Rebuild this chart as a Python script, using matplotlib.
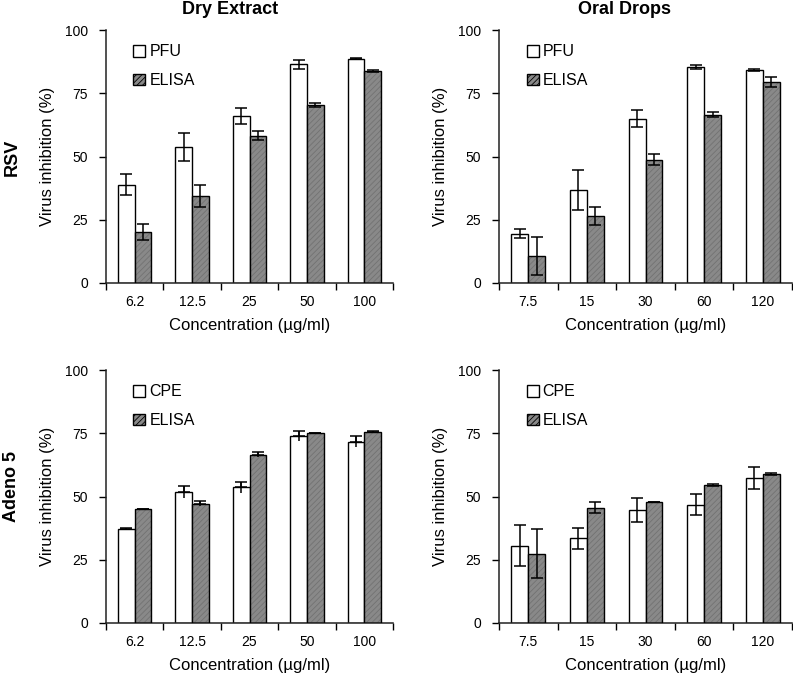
import matplotlib
matplotlib.use("Agg")
import matplotlib.pyplot as plt
import numpy as np
from matplotlib.patches import Patch

plt.rcParams['font.family'] = ['Liberation Sans', 'DejaVu Sans']
plt.rcParams['hatch.linewidth'] = 0.6

# ---- data ----
dry_conc = ["6.2", "12.5", "25", "50", "100"]
oral_conc = ["7.5", "15", "30", "60", "120"]

rsv_dry_pfu = [38.9, 53.8, 66.1, 86.4, 88.7]
rsv_dry_pfu_err = [4.0, 5.6, 3.2, 1.8, 0.3]
rsv_dry_elisa = [20.0, 34.4, 58.2, 70.4, 83.8]
rsv_dry_elisa_err = [3.2, 4.3, 1.7, 0.9, 0.5]

rsv_oral_pfu = [19.4, 36.7, 64.9, 85.4, 84.3]
rsv_oral_pfu_err = [1.8, 7.8, 3.4, 0.7, 0.4]
rsv_oral_elisa = [10.6, 26.6, 48.8, 66.6, 79.4]
rsv_oral_elisa_err = [7.5, 3.6, 2.1, 1.0, 2.1]

ad_dry_cpe = [37.2, 51.7, 53.6, 73.9, 71.7]
ad_dry_cpe_err = [0.5, 2.3, 2.2, 2.1, 2.2]
ad_dry_elisa = [45.0, 47.2, 66.6, 75.0, 75.6]
ad_dry_elisa_err = [0.1, 1.0, 1.0, 0.1, 0.3]

ad_oral_cpe = [30.6, 33.5, 44.6, 46.7, 57.4]
ad_oral_cpe_err = [8.0, 4.1, 4.7, 4.1, 4.4]
ad_oral_elisa = [27.4, 45.6, 47.9, 54.6, 59.0]
ad_oral_elisa_err = [9.7, 2.1, 0.1, 0.4, 0.4]

col_titles = ["Dry Extract", "Oral Drops"]
row_titles = ["RSV", "Adeno 5"]

W, H = 793, 674
fig = plt.figure(figsize=(W / 100, H / 100), dpi=100)

def fx(px):
    return px / W

def fy(py):
    return 1 - py / H

panels = [
    (106, 393, 30, 283, dry_conc, rsv_dry_pfu, rsv_dry_pfu_err, rsv_dry_elisa, rsv_dry_elisa_err, "PFU", False),
    (499, 792, 30, 283, oral_conc, rsv_oral_pfu, rsv_oral_pfu_err, rsv_oral_elisa, rsv_oral_elisa_err, "PFU", False),
    (106, 393, 370, 623, dry_conc, ad_dry_cpe, ad_dry_cpe_err, ad_dry_elisa, ad_dry_elisa_err, "CPE", True),
    (499, 792, 370, 623, oral_conc, ad_oral_cpe, ad_oral_cpe_err, ad_oral_elisa, ad_oral_elisa_err, "CPE", False),
]

bw = 0.29
grey = '#898989'
hatchc = '#727272'

for (l, r, t, b, cats, v1, e1, v2, e2, lab1, top_cap_only) in panels:
    ax = fig.add_axes([fx(l), fy(b), fx(r) - fx(l), fy(t) - fy(b)])
    x = np.arange(len(cats))
    ax.bar(x - bw / 2, v1, bw, facecolor='white', edgecolor='black', linewidth=1.0, zorder=2)
    ax.bar(x + bw / 2, v2, bw, facecolor=grey, edgecolor=hatchc, hatch='//////', linewidth=0, zorder=2)
    ax.bar(x + bw / 2, v2, bw, facecolor='none', edgecolor='black', linewidth=1.0, zorder=3)
    for xs, vs, es in ((x - bw / 2, v1, e1), (x + bw / 2, v2, e2)):
        if top_cap_only:
            ax.errorbar(xs, vs, yerr=es, fmt='none', ecolor='black', elinewidth=1.1, capsize=0, zorder=4)
            ax.errorbar(xs, vs, yerr=[np.zeros(len(es)), es], fmt='none', ecolor='black',
                        elinewidth=1.1, capsize=4.5, capthick=1.1, zorder=4)
        else:
            ax.errorbar(xs, vs, yerr=es, fmt='none', ecolor='black', elinewidth=1.1,
                        capsize=4.5, capthick=1.1, zorder=4)
    ax.set_xlim(-0.5, len(cats) - 0.5)
    ax.set_ylim(0, 100)
    ax.set_yticks([0, 25, 50, 75, 100])
    ax.set_xticks(x)
    ax.set_xticklabels(cats, fontsize=10)
    ax.tick_params(axis='x', length=0, pad=9)
    ax.set_xticks(np.arange(-0.5, len(cats)), minor=True)
    ax.tick_params(axis='x', which='minor', length=5, width=1, direction='out')
    ax.tick_params(axis='y', length=5, width=1, direction='out', labelsize=10, pad=8)
    for s in ('top', 'right'):
        ax.spines[s].set_visible(False)
    for s in ('left', 'bottom'):
        ax.spines[s].set_linewidth(1.1)
        ax.spines[s].set_color('#222222')
    ax.set_ylabel("Virus inhibition (%)", fontsize=12, labelpad=7)
    ax.set_xlabel("Concentration (µg/ml)", fontsize=12, labelpad=6)
    handles = [Patch(facecolor='white', edgecolor='black', linewidth=1.0, label=lab1),
               Patch(facecolor=grey, edgecolor='black', hatch='//////', linewidth=1.0, label='ELISA')]
    ax.legend(handles=handles, loc='upper left', bbox_to_anchor=(0.045, 1.0), frameon=False,
              fontsize=11.5, handlelength=0.75, handleheight=0.75, handletextpad=0.25,
              labelspacing=0.85, borderaxespad=0.5)

fig.text(fx(230), fy(9), col_titles[0], ha='center', va='center', fontsize=13, fontweight='bold')
fig.text(fx(625), fy(9), col_titles[1], ha='center', va='center', fontsize=13, fontweight='bold')
fig.text(fx(12), fy(157), row_titles[0], ha='center', va='center', rotation=90, fontsize=13, fontweight='bold')
fig.text(fx(12), fy(487), row_titles[1], ha='center', va='center', rotation=90, fontsize=13, fontweight='bold')

fig.savefig("out.png", dpi=100)
